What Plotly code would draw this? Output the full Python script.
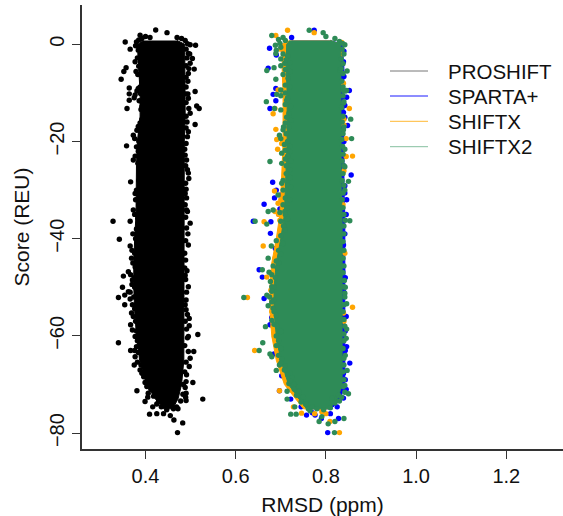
import plotly.graph_objects as go

FONT = "Liberation Sans, Helvetica, Arial, sans-serif"
series_names = ["PROSHIFT", "SPARTA+", "SHIFTX", "SHIFTX2"]
series_colors = ["#000000", "#0000FF", "#FFA500", "#2E8B57"]

# Dense centre of each cloud: score levels and the left/right RMSD limits
core_score = [0.8, 0, -5, -10, -15, -20, -25, -30, -35, -40, -45, -50, -55, -60, -65, -70, -73, -75]
proshift_left = [.395, .383, .385, .388, .388, .382, .38, .38, .379, .376, .374, .374, .376, .38, .387, .402, .422, .44]
proshift_right = [.47, .487, .488, .488, .488, .486, .486, .486, .486, .485, .485, .485, .485, .485, .485, .48, .472, .46]
sparta_left = [.725, .718, .716, .718, .718, .718, .716, .714, .712, .703, .693, .688, .688, .693, .703, .72, .745, .76]
sparta_right = [.81, .836, .84, .84, .84, .84, .84, .84, .842, .842, .842, .842, .842, .842, .842, .842, .832, .812]
shiftx_left = [.715, .703, .703, .705, .705, .705, .703, .70, .698, .69, .68, .676, .676, .68, .69, .708, .733, .75]
shiftx_right = [.81, .83, .83, .83, .83, .83, .83, .83, .833, .833, .833, .833, .833, .833, .833, .833, .823, .805]
shiftx2_left = [.72, .713, .712, .714, .714, .714, .712, .71, .708, .70, .69, .685, .685, .69, .70, .717, .742, .757]
shiftx2_right = [.81, .833, .834, .834, .834, .834, .834, .834, .836, .836, .836, .836, .836, .836, .836, .836, .826, .808]

# Individually readable points around each cloud
proshift_x = [.4226, .4477, .355, .388, .511, .366, .504, .357, .352, .346, .508, .51, .364, .364, .364, .359, .5135, .519, .51, .358, .367, .328, .366,
              .342, .34, .354, .349, .351, .354, .34, .516, .507, .375, .381, .527, .505, .471, .4825, .463, .409, .399, .416, .367,
              .380, .384, .377, .379, .392, .384, .377, .392, .395, .384, .373, .380, .373, .388, .377, .373, .384,
              .499, .495, .499, .495, .495, .499, .495, .488, .495, .488, .491, .499,
              .366, .369, .362, .371, .362, .366, .369, .367, .377, .380, .377, .392, .399, .406, .429, .425, .447,
              .495, .488, .495, .490, .497, .497, .495, .499, .497, .490, .490, .490, .469,
              .392, .40, .41, .385, .378, .386, .388, .382, .39, .385, .39, .383, .392, .394, .388, .381, .389, .375, .386, .393, .39, .396, .392, .388, .393, .381, .39, .376, .385, .391, .384, .391, .377, .383, .39, .392, .385, .391, .38, .386, .378, .385, .376, .383, .38, .372, .378, .37, .376, .372, .377, .367, .375, .37, .376, .366, .374, .371, .376, .373, .378, .371, .38, .382, .376, .384, .382, .39, .388, .396, .403, .412, .405, .418, .425, .435, .44, .447,
              .47, .48, .488, .493, .49, .498, .492, .49, .496, .49, .494, .49, .489, .494, .49, .496, .49, .492, .49, .493, .49, .487, .491, .489, .493, .496, .489, .49, .491, .488, .493, .489, .491, .494, .489, .487, .489, .487, .492, .489, .491, .488, .49, .493, .488, .491, .493, .487, .495, .49, .487, .491, .484, .488, .483, .489, .478, .472, .462, .455]
proshift_y = [2.94, 2.4, .47, 1.85, -.2, -1, -2.9, -4.8, -5.6, -7.2, -5.1, -9.7, -9, -10.2, -11.5, -13.2, -12.7, -13.2, -16.5, -20.9, -28.3, -36.4, -36.4,
              -40.1, -52.1, -51.6, -50, -47.7, -53.6, -61.4, -59.7, -63.2, -66, -71.3, -73, -69.6, -79.9, -77.9, -77.3, -76.1, -73.5, -74.6, -63,
              .5, -1.2, -3.6, -5.6, -7.7, -9.1, -10.4, -12.8, -14.9, -16.9, -18.7, -21.1, -23.8, -27.2, -30.7, -34.1, -36.8,
              -.1, -1.9, -3.9, -6, -11.1, -14.2, -18, -22.8, -26.5, -30.7, -34.1, -36.8,
              -41.5, -44, -46.8, -48.5, -50.9, -52.4, -55.3, -57.7, -60.1, -62.2, -64.3, -67.7, -69.6, -71.8, -73.5, -76, -75.2,
              -41.3, -47.5, -49.9, -52.6, -56.4, -57.9, -60.1, -64.6, -66.3, -69.4, -71.8, -73.3, -74.6,
              1.2, 1.6, 1.4, .9, -.3, -.8, -2, -2.8, -3.2, -4.5, -5.2, -6.2, -6.8, -8.2, -8.8, -9.6, -10.1, -11, -11.6, -12, -13.4, -14.2, -15.4, -16.2, -17, -17.7, -18.3, -19.4, -19.9, -20.6, -22, -22.6, -23, -24.5, -25.2, -26.4, -28, -29, -30, -31, -32, -33, -35, -35.8, -38, -39, -40, -42.4, -43, -45, -45.8, -47.4, -48, -49.4, -50, -51, -52, -53.6, -54.4, -56, -57, -58.8, -59, -61, -63, -63.4, -65.4, -66, -67, -68.4, -70.4, -71, -72.6, -72.4, -74, -74.6, -76, -73.8,
              1.4, 1.2, .8, .1, -1, -2, -2.8, -4.4, -5, -6.8, -7.6, -8.8, -10.2, -10.2, -12, -13.2, -14.8, -16, -17.2, -19, -20.4, -21.6, -23.8, -25, -25.8, -27.6, -28.6, -29.8, -31.6, -33, -34.4, -35.6, -37.8, -39, -40.4, -43, -44.4, -46, -46.6, -48.4, -51, -53.6, -54.6, -55.6, -57, -58.6, -60.4, -62, -63.2, -65.4, -67.4, -68, -70, -70.6, -72, -72.6, -73.4, -75, -75, -76.4]

sparta_x = [.774, .675, .724, .839, .672, .689, .852, .683, .689, .676, .846, .839, .848, .717, .839, .856, .682, .846, .686, .663, .698, .639, .678, .842, .706, .717,
            .677, .694, .652, .659, .663, .680, .676, .685, .695, .853, .846, .839, .709, .702, .839, .839, .825, .776, .757, .828, .804, .697, .837, .839, .831, .722,
            .702, .712, .84, .84, .842, .842, .84, .842, .842, .845, .842, .843, .84, .845, .843, .843, .843, .845, .83, .81, .79, .77, .745, .69, .69, .70, .688, .685, .683, .69, .705, .71, .725]
sparta_y = [2.9, -.8, 1.4, -3.6, -4.9, -9.1, -9.5, -10.3, -11.6, -13.2, -10.9, -14, -16.7, -13.5, -25, -26.9, -28.4, -32, -31.6, -32.9, -33.9, -36.4, -36.5, -29.1, -1.5, -19,
            -38.9, -41.3, -46.4, -47.9, -52.3, -56.2, -57.7, -63.7, -64.1, -65.6, -62.2, -60.1, -66, -68.2, -67.7, -72.8, -74.6, -76.3, -76.3, -77, -79.9, -71.3, -46.6, -41.3, -44.9, -73,
            -.4, -3, -1.4, -6.6, -12.6, -15, -20, -23, -30.6, -35, -39, -48, -51, -56, -59, -63, -69, -71, -73, -76, -77, -75.8, -74.6, -2.2, -30, -31, -42, -47, -57, -60, -64.6, -67, -71]

shiftx_x = [.715, .774, .689, .835, .839, .694, .687, .852, .683, .840, .689, .845, .691, .693, .859, .845, .720, .713, .686, .694, .687, .663, .698, .717, .720, .717, .702, .835,
            .661, .626, .859, .686, .642, .691, .702, .698, .697, .726, .717, .746, .728, .746, .791, .809, .830, .680, .683, .698, .669, .687, .835, .839, .776,
            .70, .712, .718, .722, .71, .715, .705, .72, .715, .72, .714, .71, .705, .715, .72, .725, .722, .715, .708, .712, .70, .706, .695, .703, .712, .705, .695, .70, .688, .69, .683, .678, .68, .68, .69, .684, .695, .70, .705, .712, .72, .733, .74, .735, .748, .76, .775, .785, .80, .835, .84, .84, .838, .842, .84]
shiftx_y = [2.9, 2.4, 1.8, .4, -8, -9.4, -13.2, -13.2, -14.3, -15.4, -17.5, -19.4, -19.6, -21.6, -23, -23.1, -24.5, -26.9, -30.2, -32.7, -34.4, -36.5, -36.2, -3.6, -7.3, -11.5, -20.4, -32,
            -41.5, -52.1, -54.1, -60.2, -63, -61.5, -62.2, -63.2, -71.3, -70.6, -69.6, -70.4, -74.6, -75.9, -75.6, -77.6, -79.9, -52.6, -58.1, -39.6, -47.9, -44, -53.6, -55.3, -73.9,
            -1, -2.6, -4.4, -6.4, -7.6, -9, -10.2, -11.6, -13, -15.6, -17.4, -19, -19.8, -21, -23.6, -24.6, -26, -27.4, -29.6, -31, -32, -33.4, -35, -35.6, -37, -38.6, -40, -42, -45, -47, -48.6, -50.6, -53, -55, -56, -58, -62, -63.6, -65, -67, -68.4, -69.4, -70, -71.8, -73, -74.4, -76, -74.8, -76, -2, -16.6, -26, -33, -43, -57]

shiftx2_x = [.763, .794, .680, .842, .689, .669, .847, .689, .846, .691, .668, .686, .700, .855, .857, .702, .676, .842, .850, .702, .842, .672, .683, .643, .669, .853,
             .706, .697, .720, .702, .694, .709, .698, .709, .713, .831, .839, .839, .839, .842,
             .679, .672, .659, .674, .618, .669, .672, .842, .846, .666, .846, .845, .660, .652, .676, .680, .843, .697, .690, .847, .718, .842, .714, .850, .714, .731, .722, .734, .761, .791, .785, .805, .820, .840, .819,
             .698, .680, .683, .700, .695, .720, .839, .743, .813, .828,
             .705, .695, .688, .70, .71, .69, .705, .715, .70, .712, .72, .685, .70, .71, .72, .705, .716, .71, .72, .70, .71, .70, .715, .71, .722, .718, .713, .723, .71, .718, .705, .712, .70, .715, .708, .72, .71, .715, .71, .722, .712, .72, .712, .72, .705, .715, .722, .705, .71, .72, .705, .714, .698, .71, .715, .70, .706, .71, .70, .69, .705, .695, .70, .69, .683, .692, .68, .688, .677, .685, .68, .675, .684, .68, .685, .69, .68, .685, .692, .69, .695, .69, .70, .695, .702, .70, .71, .708, .715, .725, .72, .73, .73, .74, .735, .75, .745, .755, .77, .765, .78, .795, .81,
             .80, .82, .83, .837, .836, .84, .834, .838, .834, .838, .835, .838, .843, .838, .84, .835, .838, .836, .84, .838, .835, .837, .838, .836, .84, .838, .836, .84, .838, .836, .838, .84, .843, .84, .84, .838, .84, .838, .84, .838, .841, .843, .842, .84, .838, .84, .842, .84, .84, .838, .84, .84, .838, .84, .838, .842, .835, .83, .82]
shiftx2_y = [2.9, 2.4, 1.8, -.1, -1.9, -5.4, -5.5, -7.2, -9.5, -10.3, -11.8, -13.2, -13.5, -15.4, -19.4, -22.4, -24.1, -21.6, -28.2, -28.6, -30, -34.4, -34.1, -36.4, -37, -36.3,
             -17, -18.7, -22.1, -24.5, -31, -34.4, .2, -3.9, -11.5, -5.3, -9.5, -12.1, -17.6, -25.2,
             -41.5, -44, -46.4, -46.9, -52.1, -51.6, -53.8, -51.2, -53.4, -58.1, -58.6, -60.5, -61.4, -63, -63.7, -64.3, -64, -66, -67.1, -67.1, -69.8, -70.2, -71.4, -71.9, -73, -74.6, -76.1, -76.1, -75, -76.6, -77.6, -78.1, -77.6, -77, -79.9,
             -58.8, -49.9, -54.3, -59.1, -45, -67.7, -49.9, -72.5, -72.8, -72.2,
             1.4, 1, -.2, -.6, .8, -1.2, -2, -2.4, -3, -3.2, -3.8, -4.8, -4.4, -5.2, -5.6, -6.2, -7, -8.4, -8.8, -9.4, -10, -10.6, -11, -12.4, -12.8, -14.2, -15, -15.6, -16.2, -17, -17.6, -18.4, -19.4, -20, -20.6, -21, -21.8, -23, -23.6, -24, -25, -25.8, -26.6, -27.4, -28, -29, -29.4, -30, -31.6, -32, -33, -33.6, -34.6, -35, -36, -36.4, -37.4, -38.2, -39.4, -40.4, -41, -42.4, -43.2, -44.6, -45.6, -46, -47.4, -48, -48.8, -50, -50.8, -52, -52.6, -53, -55, -55.8, -56.8, -57.6, -58, -60, -61, -62, -62.6, -64, -64.8, -65.6, -66.2, -67, -68, -68.6, -69.2, -70, -71, -71.4, -72.2, -72.6, -73.6, -74, -74.6, -75.4, -75, -75.2, -74.8,
             1.6, 1.2, .6, .2, -1, -2, -3, -4, -5, -6, -7.6, -8.8, -9.6, -10.6, -11.8, -13, -14.8, -16, -17, -18.4, -19.6, -21, -22.6, -24, -25, -26.6, -28, -29, -30.6, -32, -33.6, -35, -36.2, -37.4, -39, -40.6, -42.4, -44, -45.6, -47, -48.6, -50, -52, -53.6, -55, -56.6, -58, -59.6, -61, -62.6, -64.6, -66, -67.4, -69, -70.4, -71.6, -72.6, -73.4, -73.8]

x_ticks = [0.4, 0.6, 0.8, 1.0, 1.2]
y_ticks = [0, -20, -40, -60, -80]

W, H = 563, 516
L, R, T, B = 82, 563, 5, 449
x_range = [0.4 + (L - 145.5) / 451, 0.4 + (R - 145.5) / 451]
y_range = [(44.3 - B) / 4.86, (44.3 - T) / 4.86]

fig = go.Figure()
groups = [
    (proshift_left, proshift_right, proshift_x, proshift_y),
    (sparta_left, sparta_right, sparta_x, sparta_y),
    (shiftx_left, shiftx_right, shiftx_x, shiftx_y),
    (shiftx2_left, shiftx2_right, shiftx2_x, shiftx2_y),
]
for name, color, (left, right, px, py) in zip(series_names, series_colors, groups):
    fig.add_trace(go.Scatter(
        x=left + right[::-1], y=core_score + core_score[::-1],
        mode="lines", fill="toself", fillcolor=color,
        line=dict(color=color, width=1), hoverinfo="skip", showlegend=False, name=name))
    fig.add_trace(go.Scatter(
        x=px, y=py, mode="markers", name=name, showlegend=False,
        marker=dict(color=color, size=5.4, line=dict(width=0))))

# Legend drawn by hand because the reference spacing is tighter than its text size allows natively
legend_y = [71, 96, 121.3, 146.7]
legend_line_alpha = ["#777777", "#1a1aff", "#ffb833", "#86bf9f"]
shapes, annos = [], []
for name, c, py in zip(series_names, legend_line_alpha, legend_y):
    yf = (B - py) / (B - T)
    shapes.append(dict(type="line", xref="paper", yref="paper",
                       x0=(390 - L) / (R - L), x1=(428 - L) / (R - L), y0=yf, y1=yf,
                       line=dict(color=c, width=1)))
    annos.append(dict(xref="paper", yref="paper", x=(445.5 - L) / (R - L), y=yf, text=name,
                      showarrow=False, xanchor="left", yanchor="middle",
                      font=dict(family=FONT, size=20.5, color="#111111")))

axis_common = dict(showgrid=False, zeroline=False, showline=True, linecolor="#333333", linewidth=1.5,
                   ticks="outside", ticklen=8, tickwidth=1, tickcolor="#333333",
                   tickfont=dict(family=FONT, size=20, color="#111111"))
fig.update_layout(
    width=W, height=H, autosize=False,
    margin=dict(l=L, r=W - R, t=T, b=H - B, pad=0),
    paper_bgcolor="white", plot_bgcolor="white", showlegend=False,
    shapes=shapes, annotations=annos,
    xaxis=dict(range=x_range, tickvals=x_ticks, ticktext=[f"{v:.1f}" for v in x_ticks],
               title=dict(text="RMSD (ppm)", font=dict(family=FONT, size=21, color="#111111"), standoff=14),
               **axis_common),
    yaxis=dict(range=y_range, tickvals=y_ticks, tickangle=-90,
               title=dict(text="Score (REU)", font=dict(family=FONT, size=21, color="#111111"), standoff=11),
               **axis_common),
)
fig.write_html("out.html", config={"displayModeBar": False},
               post_script="document.body.style.margin='0';document.body.style.overflow='hidden';")
